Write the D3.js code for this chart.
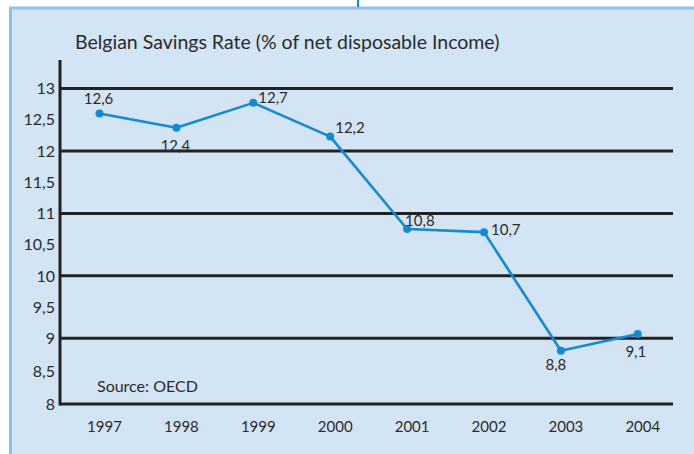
<!DOCTYPE html>
<html>
<head>
<meta charset="utf-8">
<script src="https://cdn.jsdelivr.net/npm/d3@7.9.0/dist/d3.min.js"></script>
<style>
  html, body { margin: 0; padding: 0; background: #fff; }
  svg { display: block; font-family: Lato, "Open Sans", sans-serif; }
</style>
</head>
<body>
<svg id="chart" width="694" height="454"></svg>
<script>
// DATA
const years = ['1997', '1998', '1999', '2000', '2001', '2002', '2003', '2004'];
const rates = [12.6, 12.37, 12.77, 12.23, 10.75, 10.7, 8.81, 9.07];
const rateLabels = ['12,6', '12,4', '12,7', '12,2', '10,8', '10,7', '8,8', '9,1'];
const yTicks = [8, 8.5, 9, 9.5, 10, 10.5, 11, 11.5, 12, 12.5, 13];
const gridValues = [8, 9, 10, 11, 12, 13];

// label placement relative to each point: [dx, dy, anchor]
const labelPos = [
  [-1, -9, 'middle'], [-1, 23, 'middle'], [5, 0, 'start'], [5, -4, 'start'],
  [-2, -3, 'start'], [7, 3, 'start'], [-5, 19, 'middle'], [-2, 23, 'middle']
];

const svg = d3.select('#chart');
const ink = '#2b2b2b';
const blue = '#1589d3';

// panel
svg.append('rect')
  .attr('x', 10.5).attr('y', 8).attr('width', 700).attr('height', 460)
  .attr('fill', '#d3e4f5')
  .attr('stroke', '#8dc0ea').attr('stroke-width', 3);

svg.append('line')
  .attr('x1', 358).attr('x2', 358).attr('y1', 0).attr('y2', 7)
  .attr('stroke', blue).attr('stroke-width', 2);

// SCALES
const x = d3.scalePoint().domain(years).range([99.5, 637.8]);
// the bottom band of the printed chart is slightly taller than the others
const y = d3.scaleLinear().domain([8, 9, 13]).range([404, 338.3, 88.5]);

const left = 60, right = 673;

// gridlines
svg.append('g')
  .selectAll('line')
  .data(gridValues)
  .join('line')
  .attr('x1', left).attr('x2', right)
  .attr('y1', d => y(d)).attr('y2', d => y(d))
  .attr('stroke', '#222').attr('stroke-width', 3);

// y axis line
svg.append('line')
  .attr('x1', left).attr('x2', left)
  .attr('y1', 60).attr('y2', y(8) + 1.5)
  .attr('stroke', '#222').attr('stroke-width', 3);

// y tick labels
svg.append('g')
  .selectAll('text')
  .data(yTicks)
  .join('text')
  .attr('x', 55)
  .attr('y', d => y(d))
  .attr('dy', '0.36em')
  .attr('text-anchor', 'end')
  .attr('font-size', 16)
  .attr('fill', ink)
  .text(d => String(d).replace('.', ','));

// x labels
svg.append('g')
  .selectAll('text')
  .data(years)
  .join('text')
  .attr('x', d => x(d) + 5)
  .attr('y', 432)
  .attr('text-anchor', 'middle')
  .attr('font-size', 15)
  .attr('fill', ink)
  .text(d => d);

// line + points
const line = d3.line()
  .x((d, i) => x(years[i]))
  .y(d => y(d));

svg.append('path')
  .datum(rates)
  .attr('d', line)
  .attr('fill', 'none')
  .attr('stroke', blue)
  .attr('stroke-width', 2.6)
  .attr('stroke-linejoin', 'round');

svg.append('g')
  .selectAll('circle')
  .data(rates)
  .join('circle')
  .attr('cx', (d, i) => x(years[i]))
  .attr('cy', d => y(d))
  .attr('r', 4)
  .attr('fill', blue);

// value labels
svg.append('g')
  .selectAll('text')
  .data(rates)
  .join('text')
  .attr('x', (d, i) => x(years[i]) + labelPos[i][0])
  .attr('y', (d, i) => y(d) + labelPos[i][1])
  .attr('text-anchor', (d, i) => labelPos[i][2])
  .attr('font-size', 15)
  .attr('fill', ink)
  .text((d, i) => rateLabels[i]);

// title + source
svg.append('text')
  .attr('x', 75).attr('y', 49)
  .attr('font-size', 19.5)
  .attr('fill', ink)
  .text('Belgian Savings Rate (% of net disposable Income)');

svg.append('text')
  .attr('x', 97).attr('y', 392)
  .attr('font-size', 16)
  .attr('fill', ink)
  .text('Source: OECD');
</script>
</body>
</html>
